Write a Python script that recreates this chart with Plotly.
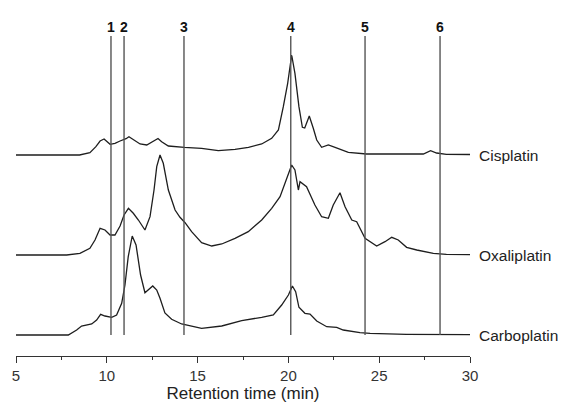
import plotly.graph_objects as go

# Retention times (min) and relative intensities
cis_t = [5.0, 8.5, 9.07, 9.4, 9.63, 9.85, 10.18, 10.45, 10.73, 11.06, 11.22, 11.5, 11.83, 12.2, 12.55, 12.82,
         13.02, 13.39, 14.27, 15.22, 16.14, 17.06, 17.8, 18.53, 19.08, 19.45, 19.72, 19.96, 20.18, 20.36, 20.58,
         20.77, 20.9, 21.15, 21.37, 21.56, 21.83, 22.2, 22.57, 23.02, 23.3, 24.31, 26.14, 27.43, 27.83, 28.16,
         28.7, 30.0]
cis_h = [0, 0, 2.3, 8.3, 14, 16, 10.7, 11.7, 14, 16.3, 18.3, 15, 11, 10, 13.3, 16.5,
         13.3, 9, 7.7, 6.7, 4.3, 5.7, 7.7, 11, 16.7, 25, 48.3, 71.7, 100, 81.7, 48.3,
         27.7, 27, 39, 26.7, 15, 7.7, 10, 7.7, 5, 2.7, 1, 1, 1, 4.3, 2,
         0.7, 0.5]

oxa_t = [5.0, 7.79, 8.52, 9.07, 9.35, 9.63, 9.9, 10.18, 10.45, 10.73, 10.95, 11.19, 11.46, 11.74, 12.1, 12.38,
         12.6, 12.75, 12.93, 13.11, 13.39, 13.76, 14.03, 14.31, 14.67, 15.22, 15.78, 16.33, 17.06, 17.79, 18.53,
         19.08, 19.54, 19.9, 20.18, 20.36, 20.55, 20.64, 21.0, 21.46, 21.83, 22.2, 22.47, 22.84, 23.12, 23.49,
         23.76, 24.22, 24.86, 25.32, 25.69, 26.05, 26.51, 27.07, 27.98, 28.7, 30.0]
oxa_h = [0, 0, 1.7, 6.7, 15, 26.7, 25, 20, 20, 29, 40, 46.7, 41.7, 35, 25, 38.3,
         65, 88.3, 100, 91.7, 65, 45, 37.7, 32.3, 23.3, 12.3, 9, 11, 16.7, 23.3, 35,
         46.7, 58.3, 75, 90, 85, 65, 73.3, 68.3, 50, 38.3, 36.7, 50, 62.3, 48.3, 35,
         33.3, 16.7, 9, 13.3, 17.7, 15, 7.7, 5, 1.7, 0.7, 0.3]

carb_t = [5.0, 7.88, 8.34, 8.61, 9.17, 9.44, 9.66, 9.9, 10.27, 10.54, 10.82, 11.0, 11.18, 11.4, 11.61, 11.86,
          12.1, 12.29, 12.53, 12.75, 12.93, 13.2, 13.57, 14.12, 15.22, 16.33, 17.43, 18.53, 19.17, 19.63, 20.0,
          20.22, 20.4, 20.58, 20.91, 21.19, 21.56, 22.11, 22.66, 23.02, 23.94, 24.5, 26.5, 30.0]
carb_h = [0, 0, 5, 9, 11, 15, 20.7, 19, 17.7, 20, 31.7, 50, 78.3, 99, 90, 60,
          42.3, 45, 49, 45, 36.7, 22, 15.7, 11, 6.7, 9, 14.3, 17.7, 20, 30, 40,
          49, 43.3, 27.7, 21.7, 21, 14, 8.3, 7.7, 5, 2.3, 1.7, 0.7, 0.3]

series_names = ["Cisplatin", "Oxaliplatin", "Carboplatin"]

# Fraction markers
marker_times = [10.23, 10.95, 14.25, 20.13, 24.22, 28.35]
marker_labels = ["1", "2", "3", "4", "5", "6"]

x_ticks = [5, 10, 15, 20, 25, 30]

# Vertical stacking offsets (layout)
offsets = [201, 101, 21]
line_top = 320
label_y = 329

FONT = "Liberation Sans, Arial, sans-serif"

fig = go.Figure()
for name, t, h, off in zip(series_names, [cis_t, oxa_t, carb_t], [cis_h, oxa_h, carb_h], offsets):
    fig.add_trace(go.Scatter(x=t, y=[v + off for v in h], mode="lines", name=name,
                             line=dict(color="#1e1e1e", width=1.3), showlegend=False))
    fig.add_annotation(x=30, y=off, xref="x", yref="y", text=name, showarrow=False,
                       xanchor="left", yanchor="middle", xshift=7,
                       font=dict(family=FONT, size=15.5, color="#222"))

for mt, ml in zip(marker_times, marker_labels):
    fig.add_shape(type="line", x0=mt, x1=mt, y0=offsets[2], y1=line_top, xref="x", yref="y",
                  line=dict(color="#555", width=1.4))
    fig.add_annotation(x=mt, y=label_y, xref="x", yref="y", text="<b>%s</b>" % ml, showarrow=False,
                       xanchor="center", yanchor="middle",
                       font=dict(family=FONT, size=14, color="#111"))

fig.update_layout(
    width=565, height=403,
    margin=dict(l=16, r=95, t=0, b=47),
    paper_bgcolor="white", plot_bgcolor="white",
    xaxis=dict(range=[5, 30], tickvals=x_ticks, ticktext=[str(v) for v in x_ticks],
               showgrid=False, zeroline=False, showline=True, linecolor="#333", linewidth=1,
               ticks="outside", ticklen=6, tickwidth=1, tickcolor="#333",
               minor=dict(dtick=2.5, tick0=5, ticks="outside", ticklen=3, tickcolor="#333"),
               tickfont=dict(family=FONT, size=15, color="#333"),
               title=dict(text="Retention time (min)", standoff=4,
                          font=dict(family=FONT, size=17, color="#222"))),
    yaxis=dict(range=[0, 356], visible=False, showgrid=False, zeroline=False),
)

fig.write_html("out.html", config={"displayModeBar": False},
               post_script="document.body.style.margin='0';document.body.style.overflow='hidden';")
